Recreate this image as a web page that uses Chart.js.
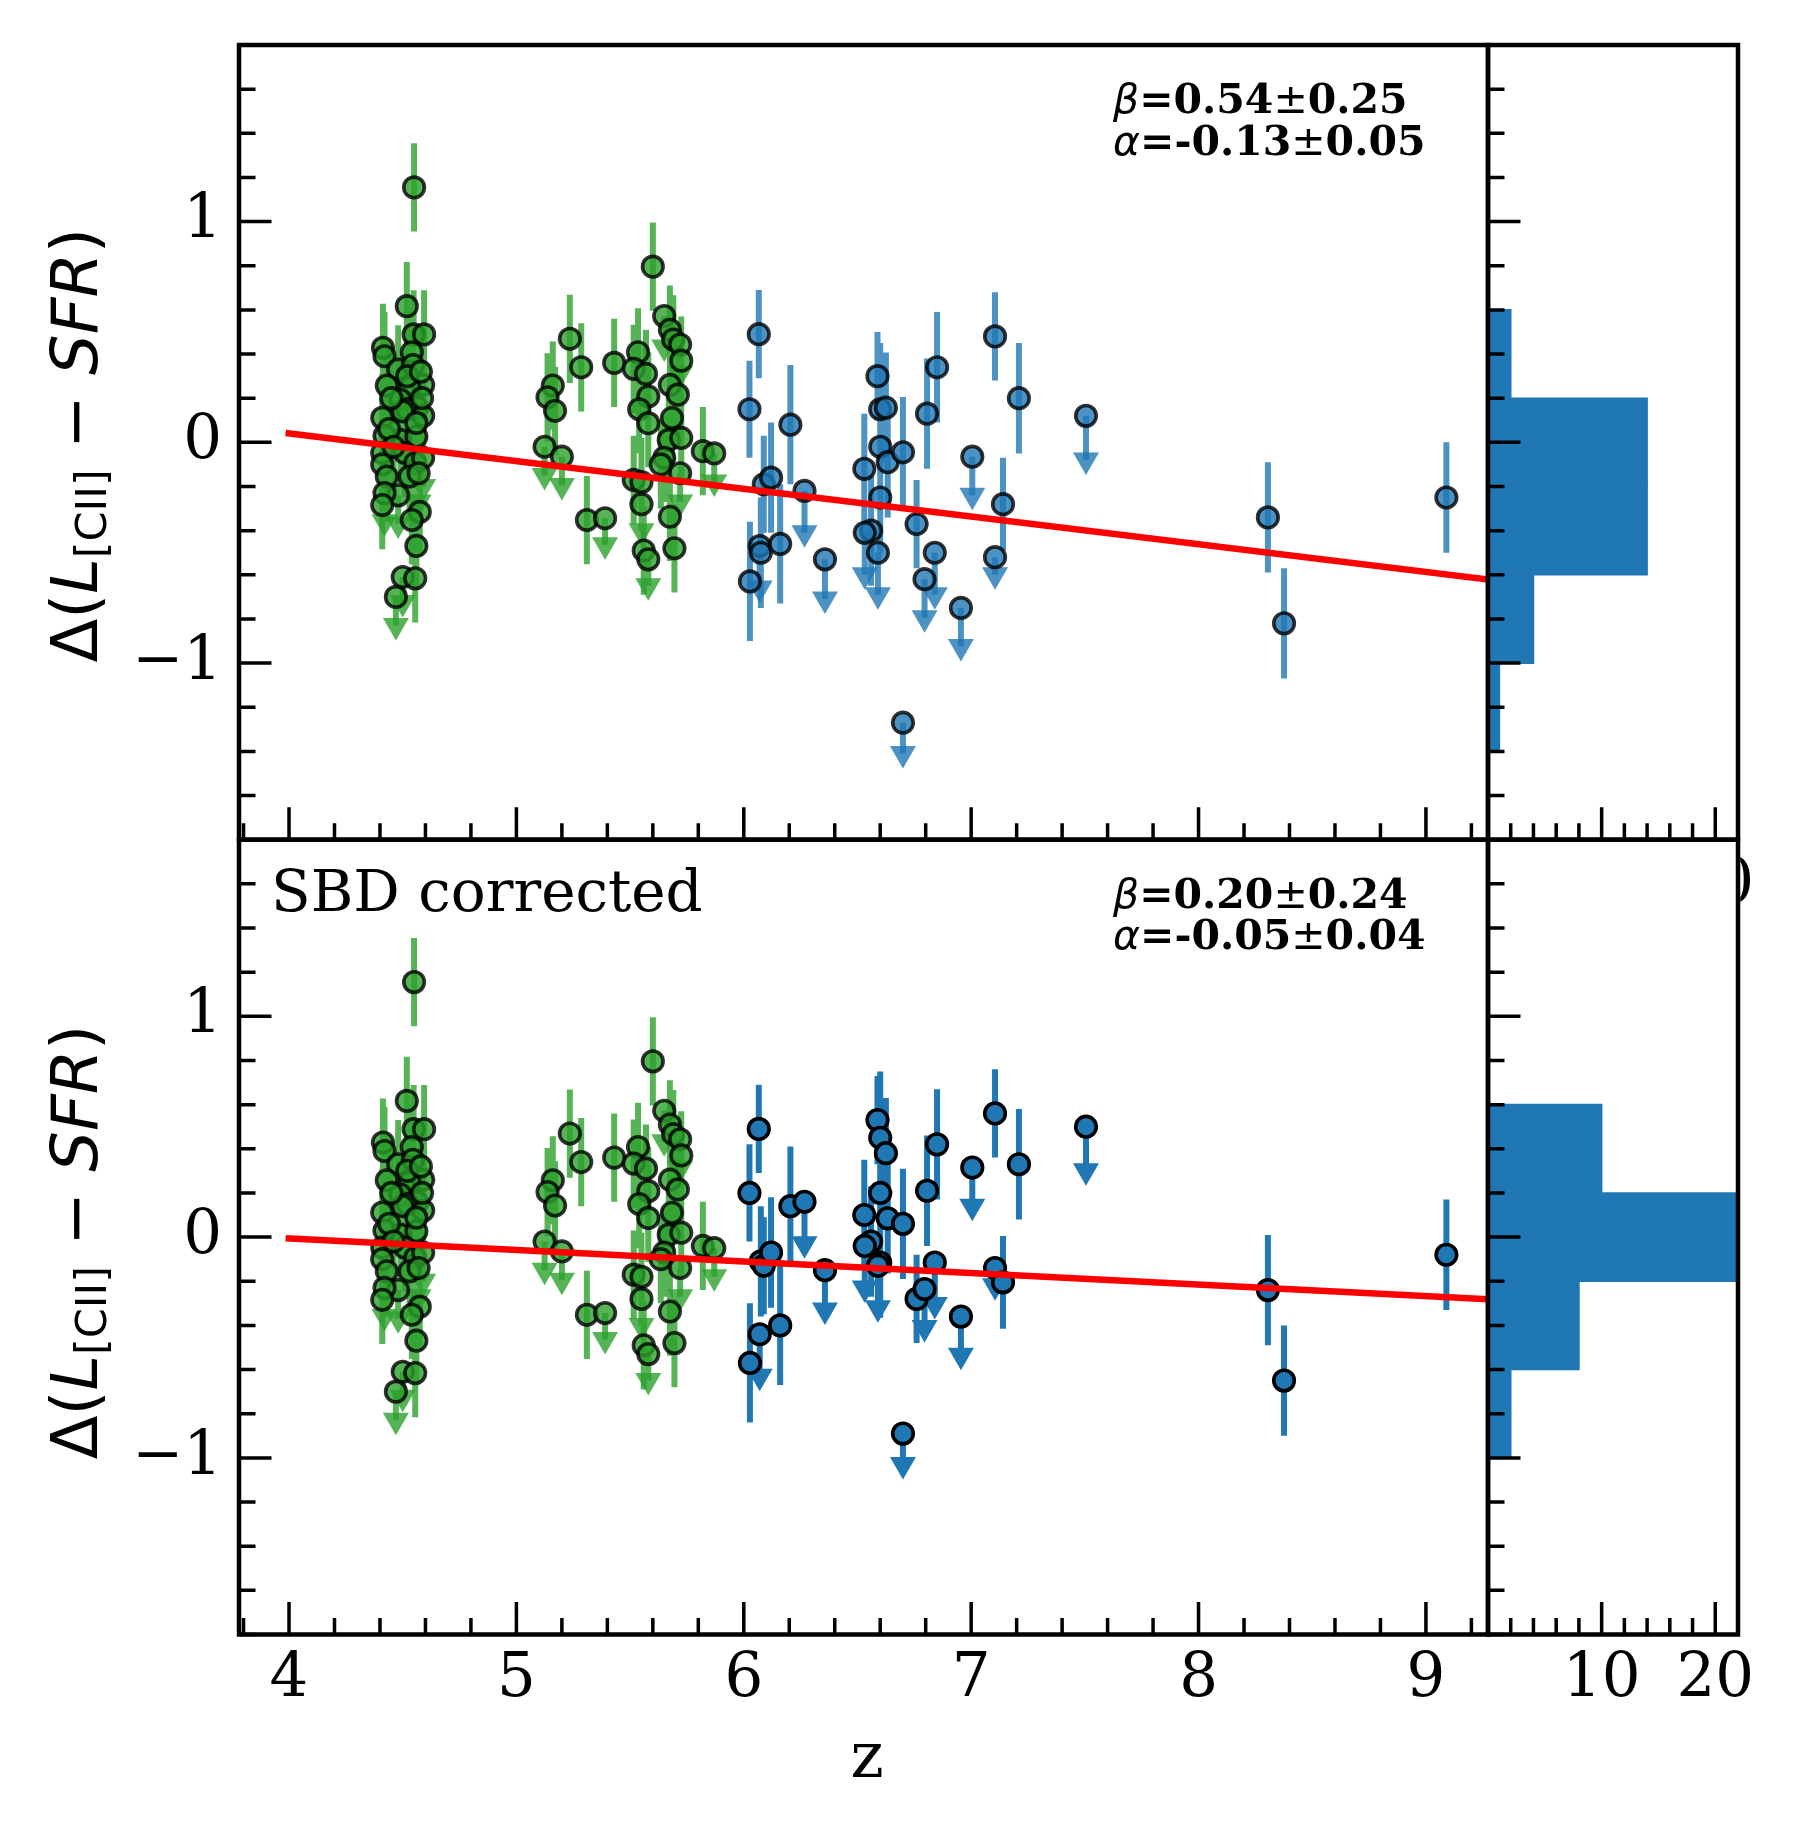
<!DOCTYPE html>
<html>
<head>
<meta charset="utf-8">
<script src="https://cdn.jsdelivr.net/npm/chart.js@4.4.0/dist/chart.umd.min.js"></script>
<style>
html,body{margin:0;padding:0;background:#fff;}
#wrap{position:relative;width:1800px;height:1836px;background:#fff;}
#wrap canvas{position:absolute;left:0;top:0;}
</style>
</head>
<body>
<div id="wrap">
<canvas id="mainTop" width="1800" height="1836"></canvas>
<canvas id="histTop" width="1800" height="1836"></canvas>
<canvas id="mainBot" width="1800" height="1836"></canvas>
<canvas id="histBot" width="1800" height="1836"></canvas>
</div>
<script>
// ---------------- DATA ----------------
// green sample (z < 6) : same in both panels
const greenZ = [4.55,4.518,4.413,4.42,4.548,4.594,4.54,4.48,4.545,4.43,4.59,4.53,4.49,4.565,4.52,4.41,4.59,4.585,4.49,4.56,4.42,4.50,4.56,4.41,4.51,4.41,4.555,4.43,4.53,4.48,4.42,4.41,4.575,4.54,4.56,4.50,4.555,4.47,4.59,4.57,4.44,4.46,4.52,4.58,4.45,
  5.235,5.285,5.16,5.137,5.17,5.43,5.535,5.516,5.57,5.60,5.65,5.675,5.69,5.72,5.725,5.58,5.675,5.71,5.54,5.58,5.684,5.67,5.725,5.82,5.87,5.124,5.20,5.65,5.635,5.72,5.516,5.55,5.55,5.56,5.58,5.675,5.695,5.31,5.39];
const greenV = [1.155,0.617,0.428,0.39,0.489,0.489,0.408,0.33,0.35,0.257,0.26,0.247,0.193,0.157,0.15,0.111,0.12,0.20,0.011,0.026,0.03,0.14,0.088,-0.048,-0.048,-0.10,-0.094,-0.155,-0.155,-0.24,-0.23,-0.284,-0.315,-0.352,-0.469,-0.61,-0.616,-0.70,-0.07,-0.14,0.06,-0.02,0.30,0.32,0.20,
  0.469,0.34,0.257,0.204,0.143,0.36,0.408,0.333,0.31,0.796,0.572,0.51,0.466,0.443,0.37,0.208,0.26,0.216,0.15,0.087,0.11,0.011,0.02,-0.04,-0.05,-0.02,-0.065,-0.07,-0.10,-0.14,-0.17,-0.18,-0.28,-0.49,-0.53,-0.337,-0.48,-0.352,-0.344];
const greenErr = [0.2,0.2,0.2,0.2,0.2,0.2,0.2,0.2,0.2,0.2,0.2,0.2,0.2,0.2,0.2,0.2,0.2,0.2,0.2,0.2,0.2,0.2,0.2,0.2,0.2,0.2,0.2,0.2,0.2,0.13,0.13,0.2,0.2,0.2,0.2,0.115,0.2,0.13,0.13,0.13,0.2,0.2,0.2,0.2,0.2,
  0.2,0.2,0.2,0.2,0.2,0.2,0.2,0.2,0.2,0.2,0.14,0.2,0.2,0.13,0.2,0.2,0.2,0.2,0.2,0.2,0.2,0.2,0.2,0.2,0.13,0.13,0.13,0.2,0.2,0.13,0.2,0.2,0.12,0.2,0.12,0.2,0.2,0.2,0.12];
const greenLim = [0,0,0,0,0,0,0,0,0,0,0,0,0,0,0,0,0,0,0,0,0,0,0,0,0,0,0,0,0,1,1,0,0,0,0,1,0,1,1,1,0,0,0,0,0,
  0,0,0,0,0,0,0,0,0,0,1,0,0,1,0,0,0,0,0,0,0,0,0,0,1,1,1,0,0,1,0,0,1,0,1,0,0,0,1];

// blue sample (z > 6): top = observed, bottom = SBD corrected
const blueZ = [6.025,6.066,6.027,6.07,6.075,6.088,6.12,6.16,6.205,6.267,6.357,6.53,6.588,6.60,6.625,6.60,6.633,6.60,6.59,6.56,6.532,6.70,6.70,6.76,6.806,6.795,6.84,6.85,6.955,7.005,7.105,7.105,7.14,7.21,7.505,8.305,8.376,9.09];
const blueTopV = [0.15,0.49,-0.63,-0.47,-0.50,-0.19,-0.16,-0.46,0.08,-0.22,-0.53,-0.12,0.30,0.15,0.157,-0.02,-0.09,-0.25,-0.50,-0.40,-0.41,-0.045,-1.27,-0.37,0.13,-0.62,-0.50,0.34,-0.75,-0.065,0.48,-0.52,-0.28,0.20,0.12,-0.34,-0.82,-0.25];
const blueBotV = [0.20,0.49,-0.57,-0.44,-0.11,-0.13,-0.07,-0.40,0.14,0.16,-0.15,0.10,0.53,0.45,0.38,0.20,0.085,-0.115,-0.13,-0.02,-0.04,0.06,-0.89,-0.28,0.21,-0.235,-0.115,0.42,-0.36,0.315,0.56,-0.14,-0.205,0.33,0.50,-0.24,-0.65,-0.08];
const blueErr = [0.22,0.2,0.27,0.19,0.25,0.22,0.25,0.27,0.27,0.19,0.18,0.25,0.2,0.3,0.25,0.3,0.25,0.25,0.19,0.25,0.19,0.25,0.14,0.2,0.25,0.175,0.19,0.25,0.175,0.175,0.2,0.08,0.21,0.25,0.2,0.25,0.25,0.25];
const blueLim = [0,0,0,1,0,0,0,0,0,1,1,0,0,0,0,0,0,0,1,0,1,0,1,0,0,1,1,0,1,1,0,1,0,0,1,0,0,0];

// fitted relations (end points)
const fitTopZ = [3.985, 9.3];
const fitTopV = [0.042, -0.625];
const fitBotZ = [3.985, 9.3];
const fitBotV = [-0.005, -0.283];

// histograms (bin centres, counts)
const histCenters = [0.4, 0.0, -0.4, -0.8, -1.2];
const histTopCounts = [2, 14, 14, 4, 1];
const histBotCounts = [10, 23, 8, 2, 0];

// tick labels
const xTickVals = [4, 5, 6, 7, 8, 9];
const yTickVals = [-1, 0, 1];
const histTickVals = [10, 20];

const annTop = ['0.54', '0.25', '-0.13', '0.05'];
const annBot = ['0.20', '0.24', '-0.05', '0.04'];

// ---------------- STYLE ----------------
const SERIF = '"DejaVu Serif", serif';
const SANS = '"DejaVu Sans", sans-serif';
const GREEN_A = 'rgba(44,160,44,0.8)';
const EDGE_A = 'rgba(0,0,0,0.8)';
const BLUE_A = 'rgba(31,119,180,0.8)';
const BLUE = 'rgb(31,119,180)';
const SPINE_W = 4.5, TICK_W = 3.5, MAJ_LEN = 32.5, MIN_LEN = 16.5;
const MK_R = 10.3, MK_BW = 3.6;

function range(a, b, step) { const out = []; for (let v = a; v <= b + 1e-9; v += step) out.push(Math.round(v * 1000) / 1000); return out; }
function fmt(v) { return v < 0 ? '\u2212' + Math.abs(v) : String(v); }

function segData(z, v, err, lim) {
  const d = [];
  z.forEach((zz, i) => {
    const lo = v[i] - err[i];
    const hi = lim[i] ? v[i] : v[i] + err[i];
    d.push({x: zz, y: lo}, {x: zz, y: hi}, {x: zz, y: null});
  });
  return d;
}
function arrowData(z, v, err, lim) {
  const d = [];
  z.forEach((zz, i) => { if (lim[i]) d.push({x: zz, y: v[i] - err[i]}); });
  return d;
}
function pts(z, v) { return z.map((zz, i) => ({x: zz, y: v[i]})); }

function runsWidth(ctx, runs) { let w = 0; runs.forEach(r => { ctx.font = r.f; w += ctx.measureText(r.t).width; }); return w; }
function drawRuns(ctx, runs, x, y) {
  let cx = x;
  runs.forEach(r => { ctx.font = r.f; ctx.fillText(r.t, cx, y + (r.dy || 0)); cx += ctx.measureText(r.t).width; });
}

function drawYLabel(ctx, xb, yc) {
  const runs = [
    {t: '\u0394(', f: `64px ${SANS}`},
    {t: 'L', f: `italic 64px ${SANS}`},
    {t: '[CII]', f: `43px ${SANS}`, dy: 9},
    {t: ' \u2212 ', f: `64px ${SANS}`},
    {t: 'SFR', f: `italic 64px ${SANS}`},
    {t: ')', f: `64px ${SANS}`}
  ];
  ctx.save();
  ctx.translate(xb, yc);
  ctx.rotate(-Math.PI / 2);
  ctx.fillStyle = '#000'; ctx.textAlign = 'left'; ctx.textBaseline = 'alphabetic';
  const w = runsWidth(ctx, runs);
  drawRuns(ctx, runs, -w / 2, 0);
  ctx.restore();
}

function drawAnnot(ctx, vals, x, y1, y2) {
  ctx.save();
  ctx.fillStyle = '#000'; ctx.textAlign = 'left'; ctx.textBaseline = 'alphabetic';
  const B = `bold 41px ${SERIF}`;
  drawRuns(ctx, [
    {t: '\u03B2', f: `italic 41px ${SANS}`}, {t: '=' + vals[0], f: B},
    {t: '\u00B1', f: `41px ${SANS}`}, {t: vals[1], f: B}], x, y1);
  drawRuns(ctx, [
    {t: '\u03B1', f: `italic 41px ${SANS}`}, {t: '=' + vals[2], f: B},
    {t: '\u00B1', f: `41px ${SANS}`}, {t: vals[3], f: B}], x, y2);
  ctx.restore();
}

function makeDecor(cfg) {
  return {
    id: 'decor',
    afterDraw(chart) {
      const {ctx, chartArea: a} = chart;
      const xs = chart.scales.x, ys = chart.scales.y;
      const isMaj = (v, m) => m.some(q => Math.abs(q - v) < 1e-6);
      ctx.save();
      ctx.strokeStyle = '#000';
      ctx.lineCap = 'butt';
      ctx.lineWidth = TICK_W;
      ctx.beginPath();
      cfg.xTicks.forEach(v => {
        const p = xs.getPixelForValue(v);
        const len = isMaj(v, cfg.xMajor) ? MAJ_LEN : MIN_LEN;
        ctx.moveTo(p, a.bottom); ctx.lineTo(p, a.bottom - len);
      });
      cfg.yTicks.forEach(v => {
        const p = ys.getPixelForValue(v);
        const len = isMaj(v, cfg.yMajor) ? MAJ_LEN : MIN_LEN;
        ctx.moveTo(a.left, p); ctx.lineTo(a.left + len, p);
      });
      ctx.stroke();
      ctx.lineWidth = SPINE_W;
      ctx.lineJoin = 'miter';
      ctx.strokeRect(a.left, a.top, a.right - a.left, a.bottom - a.top);
      ctx.restore();
      if (cfg.extra) cfg.extra(ctx, chart);
    }
  };
}

function commonOpts(pad) {
  return {
    responsive: false, animation: false, devicePixelRatio: 1, events: [],
    layout: {padding: pad},
    plugins: {legend: {display: false}, tooltip: {enabled: false}}
  };
}

// size = fixed thickness of the axis box (room for the tick labels)
function axisCfg(min, max, isX, size, tickVals, showLabels, pad) {
  return {
    type: 'linear', min: min, max: max, bounds: 'data', offset: false,
    afterFit: s => {
      if (isX) s.height = size; else s.width = size;
      s.paddingTop = 0; s.paddingBottom = 0; s.paddingLeft = 0; s.paddingRight = 0;
    },
    afterBuildTicks: s => { s.ticks = tickVals.map(v => ({value: v})); },
    grid: {display: false, drawTicks: false, offset: false},
    border: {display: false},
    ticks: {display: showLabels, autoSkip: false, maxRotation: 0, minRotation: 0, padding: pad, color: '#000',
      font: {family: SERIF, size: 61}, callback: v => fmt(v)}
  };
}

const Y_MINOR = range(-1.8, 1.8, 0.2);
const X_MINOR = range(3.8, 9.2, 0.2);

const W = 1800, H = 1836;
const L = 239, R = 1488, HR = 1738, T = 45, MID = 839.7, B = 1634.5;
const XH = 120;      // height reserved for x tick labels
const HY = 10;       // width of the (label-less) histogram y axis box

function makeMain(id, top, bottom, blueV, blueFace, blueEdge, fitZ, fitV, showX, extra) {
  return new Chart(document.getElementById(id), {
    type: 'scatter',
    data: {datasets: [
      {type: 'line', data: segData(greenZ, greenV, greenErr, greenLim), borderColor: GREEN_A, borderWidth: 6,
        pointRadius: 0, spanGaps: false, borderCapStyle: 'butt', fill: false, tension: 0, order: 7},
      {type: 'scatter', data: arrowData(greenZ, greenV, greenErr, greenLim), pointStyle: 'triangle', rotation: 180,
        pointRadius: 15, backgroundColor: GREEN_A, borderWidth: 0, order: 6},
      {type: 'scatter', data: pts(greenZ, greenV), pointRadius: MK_R, backgroundColor: GREEN_A, borderColor: EDGE_A,
        borderWidth: MK_BW, order: 5},
      {type: 'line', data: segData(blueZ, blueV, blueErr, blueLim), borderColor: blueFace, borderWidth: 6,
        pointRadius: 0, spanGaps: false, borderCapStyle: 'butt', fill: false, tension: 0, order: 4},
      {type: 'scatter', data: arrowData(blueZ, blueV, blueErr, blueLim), pointStyle: 'triangle', rotation: 180,
        pointRadius: 15, backgroundColor: blueFace, borderWidth: 0, order: 3},
      {type: 'scatter', data: pts(blueZ, blueV), pointRadius: MK_R, backgroundColor: blueFace, borderColor: blueEdge,
        borderWidth: MK_BW, order: 2},
      {type: 'line', data: pts(fitZ, fitV), borderColor: '#ff0000', borderWidth: 6.5, pointRadius: 0,
        fill: false, tension: 0, clip: 0, order: 1}
    ]},
    options: Object.assign(commonOpts({left: 0, top: top, right: W - R, bottom: H - bottom - XH}), {
      scales: {
        x: axisCfg(3.78, 9.273, true, XH, xTickVals, showX, 9),
        y: axisCfg(-1.8, 1.8, false, L, yTickVals, true, 17)
      }
    }),
    plugins: [makeDecor({xTicks: X_MINOR, xMajor: xTickVals, yTicks: Y_MINOR, yMajor: yTickVals, extra: extra})]
  });
}

function makeHist(id, top, bottom, counts, showX, extra) {
  const data = histCenters.map((c, i) => ({y: c, x: counts[i]})).filter(d => d.x > 0);
  return new Chart(document.getElementById(id), {
    type: 'bar',
    data: {datasets: [{data: data, backgroundColor: BLUE, borderWidth: 0, barPercentage: 1, categoryPercentage: 1,
      inflateAmount: 0.8}]},
    options: Object.assign(commonOpts({left: R - HY, top: top, right: W - HR, bottom: H - bottom - XH}), {
      indexAxis: 'y',
      scales: {
        x: axisCfg(0, 22, true, XH, histTickVals, showX, 9),
        y: axisCfg(-1.8, 1.8, false, HY, yTickVals, false, 17)
      }
    }),
    plugins: [makeDecor({xTicks: range(2, 20, 2), xMajor: histTickVals, yTicks: Y_MINOR, yMajor: yTickVals, extra: extra})]
  });
}

makeMain('mainTop', T, MID, blueTopV, BLUE_A, EDGE_A, fitTopZ, fitTopV, false,
  (ctx, chart) => {
    drawYLabel(ctx, 97, (T + MID) / 2 + 3);
    drawAnnot(ctx, annTop, 1113, 113, 155);
  });

makeHist('histTop', T, MID, histTopCounts, false,
  (ctx, chart) => {
    // tick label "20" of this histogram, mostly hidden behind the lower panel
    const xs = chart.scales.x;
    ctx.save();
    ctx.beginPath(); ctx.rect(HR + SPINE_W / 2, MID, W - HR, 90); ctx.clip();
    ctx.fillStyle = '#000'; ctx.font = `61px ${SERIF}`; ctx.textAlign = 'center'; ctx.textBaseline = 'alphabetic';
    ctx.fillText(String(histTickVals[1]), xs.getPixelForValue(histTickVals[1]), MID + 62.5);
    ctx.restore();
  });

makeMain('mainBot', MID, B, blueBotV, BLUE, '#000', fitBotZ, fitBotV, true,
  (ctx, chart) => {
    drawYLabel(ctx, 97, (MID + B) / 2 + 5);
    drawAnnot(ctx, annBot, 1113, 908, 949);
    ctx.save();
    ctx.fillStyle = '#000'; ctx.textAlign = 'left'; ctx.textBaseline = 'alphabetic';
    ctx.font = `58px ${SERIF}`;
    ctx.fillText('SBD corrected', 271, 911);
    ctx.font = `63px ${SERIF}`; ctx.textAlign = 'center';
    ctx.fillText('z', 867, 1777);
    ctx.restore();
  });

makeHist('histBot', MID, B, histBotCounts, true, null);
</script>
</body>
</html>
